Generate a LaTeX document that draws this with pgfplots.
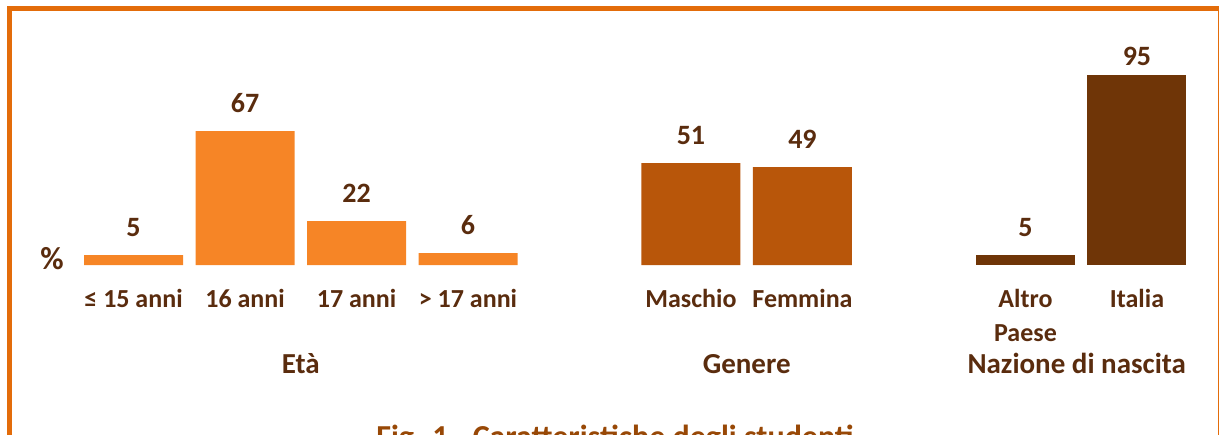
\documentclass[border=0pt]{standalone}
\usepackage{fontspec}
\setmainfont{Carlito}
\usepackage{pgfplots}
\pgfplotsset{compat=1.18}

\definecolor{cEta}{HTML}{F68526}
\definecolor{cGen}{HTML}{B8560A}
\definecolor{cNaz}{HTML}{6F3507}
\definecolor{cTxt}{HTML}{5A2C0E}
\definecolor{cFrame}{HTML}{E36C0A}
\definecolor{cTitle}{HTML}{984806}

\begin{document}
\begin{tikzpicture}
\useasboundingbox (0,0) rectangle (610pt,217pt);
% frame (bottom part is cut off like in the original)
\draw[cFrame, line width=2.5pt] (4.75pt,-20pt) -- (4.75pt,212.75pt) -- (609.5pt,212.75pt);
\draw[cFrame, line width=0.8pt] (609.25pt,213pt) -- (609.25pt,-20pt);

\begin{axis}[
  at={(24.95pt,84.5pt)}, anchor=south west,
  scale only axis, width=571.4pt, height=100pt,
  xmin=-0.75, xmax=9.5, ymin=0, ymax=100,
  clip=false,
  axis line style={draw=none},
  ytick=\empty,
  xtick={0,1,2,3,5,6,8,9},
  xticklabels={{≤ 15 anni},{16 anni},{17 anni},{> 17 anni},Maschio,Femmina,{Altro\\Paese},Italia},
  major tick length=0pt,
  xticklabel style={anchor=north, inner sep=0pt, yshift=-12pt, align=center,
    font=\bfseries\fontsize{13}{17}\selectfont, text=cTxt},
  ybar, bar width=0.888,
  /pgf/number format/assume math mode=true,
  nodes near coords,
  every node near coord/.append style={anchor=south, inner sep=0pt, yshift=9pt,
    font=\bfseries\fontsize{14}{16}\selectfont, text=cTxt},
]
\addplot[fill=cEta, draw=none, bar shift=0pt] coordinates {(0,5) (1,67) (2,22) (3,6)};
\addplot[fill=cGen, draw=none, bar shift=0pt] coordinates {(5,51) (6,49)};
\addplot[fill=cNaz, draw=none, bar shift=0pt] coordinates {(8,5)};
% label of the tallest bar sits closer to it
\addplot[fill=cNaz, draw=none, bar shift=0pt,
  every node near coord/.append style={yshift=-4.5pt}] coordinates {(9,95)};

\node[anchor=base, text=cTxt, font=\bfseries\fontsize{16}{18}\selectfont, yshift=-2pt] at (axis cs:-0.73,0) {\%};
\node[anchor=base, text=cTxt, font=\bfseries\fontsize{14.5}{16}\selectfont, yshift=-54pt] at (axis cs:1.5,0) {Età};
\node[anchor=base, text=cTxt, font=\bfseries\fontsize{14.5}{16}\selectfont, yshift=-54pt] at (axis cs:5.5,0) {Genere};
\node[anchor=base, text=cTxt, font=\bfseries\fontsize{14.5}{16}\selectfont, yshift=-54pt] at (axis cs:8.46,0) {Nazione di nascita};
\end{axis}

\node[anchor=north, inner sep=0pt, text=cTitle, font=\bfseries\fontsize{16}{18}\selectfont] at (307.5pt,4.5pt) {Fig. 1 - Caratteristiche degli studenti};
\end{tikzpicture}
\end{document}
